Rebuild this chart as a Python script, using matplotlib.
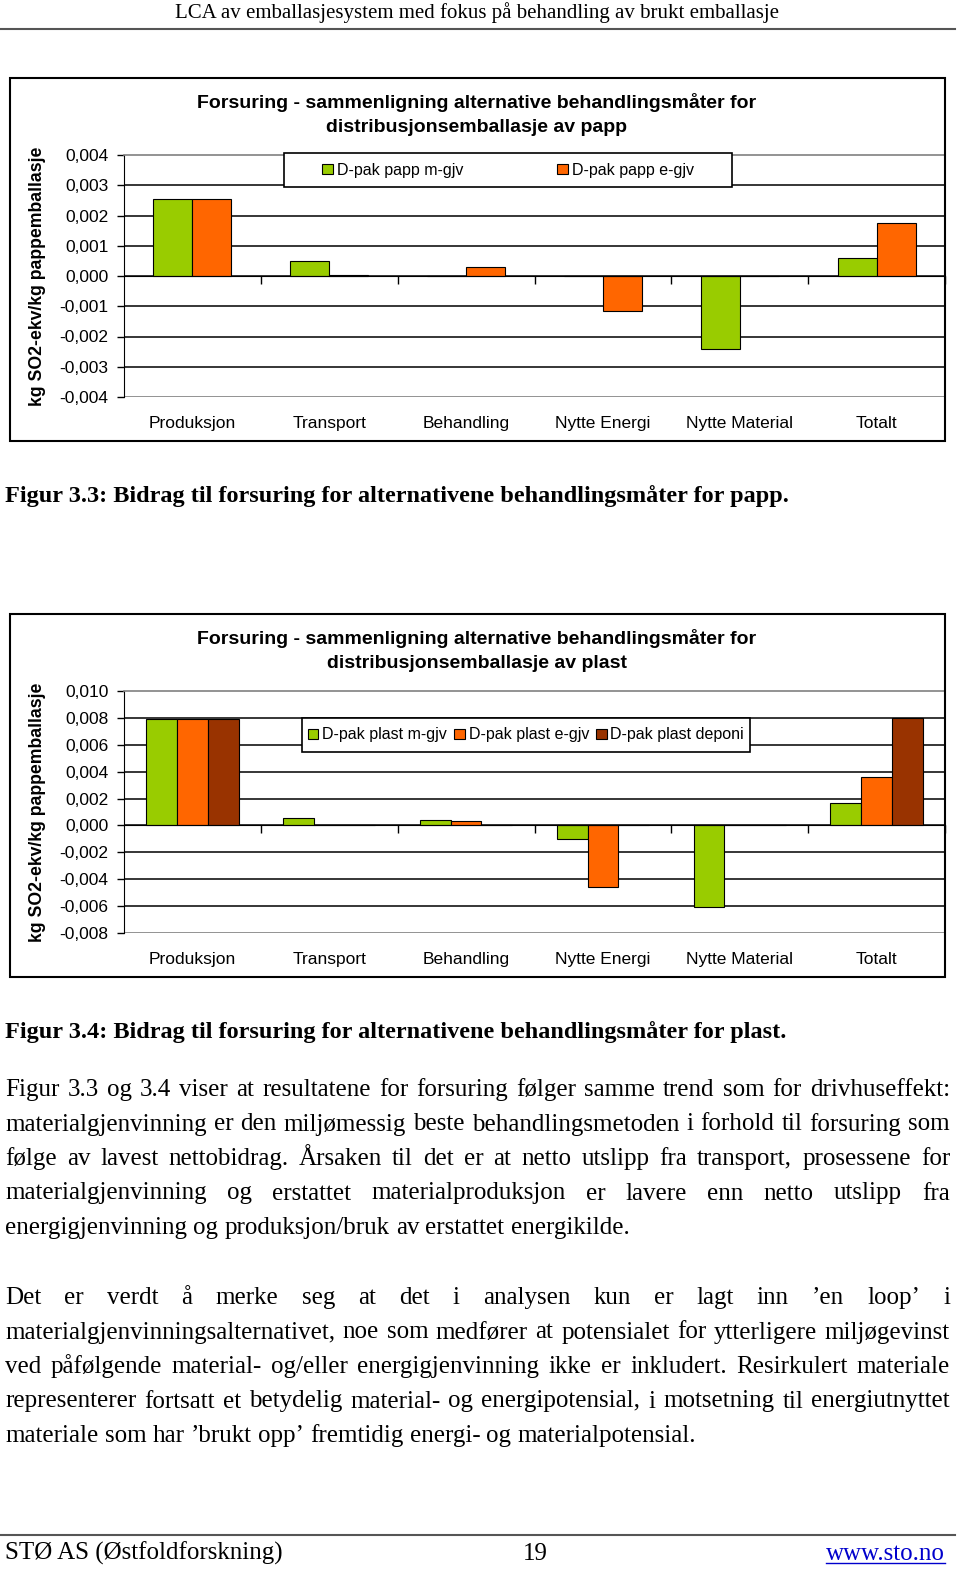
import matplotlib
matplotlib.use("Agg")
import matplotlib.pyplot as plt
from matplotlib.patches import Rectangle
from matplotlib.lines import Line2D

# data (lest av fra figuren)
kategorier = ['Produksjon', 'Transport', 'Behandling', 'Nytte Energi', 'Nytte Material', 'Totalt']

papp_m_gjv = [0.00255, 0.00050, 0.0, 0.0, -0.00240, 0.00060]
papp_e_gjv = [0.00255, 0.00002, 0.00030, -0.00116, 0.0, 0.00175]
papp_navn = ['D-pak papp m-gjv', 'D-pak papp e-gjv']
papp_ticks = [0.004, 0.003, 0.002, 0.001, 0.0, -0.001, -0.002, -0.003, -0.004]

plast_m_gjv = [0.00795, 0.00052, 0.00037, -0.00100, -0.00610, 0.00170]
plast_e_gjv = [0.00795, 0.00005, 0.00030, -0.00460, 0.0, 0.00360]
plast_deponi = [0.00795, 0.00005, 0.0, 0.0, 0.0, 0.00800]
plast_navn = ['D-pak plast m-gjv', 'D-pak plast e-gjv', 'D-pak plast deponi']
plast_ticks = [0.010, 0.008, 0.006, 0.004, 0.002, 0.0, -0.002, -0.004, -0.006, -0.008]

farger = ['#99CC00', '#FF6600', '#993300']

W, H = 960, 1571
fig = plt.figure(figsize=(W / 100, H / 100), dpi=100)
renderer = fig.canvas.get_renderer()

def fx(x):
    return x / W

def fy(y):
    return 1 - y / H

SANS = 'Liberation Sans'
SERIF = 'Liberation Serif'

def komma(v):
    return f'{v:.3f}'.replace('.', ',')

def lag_diagram(top, serier, navn, ticks, bredde, tittel, leg_box, colsp):
    # ramme rundt diagrammet
    fig.add_artist(Rectangle((fx(10), fy(top + 363)), (945 - 10) / W, 363 / H,
                             transform=fig.transFigure, fill=False, ec='black', lw=1.5))
    fig.text(fx(477), fy(top + 24), tittel[0], ha='center', va='center',
             fontsize=14, fontweight='bold', family=SANS)
    fig.text(fx(477), fy(top + 50), tittel[1], ha='center', va='center',
             fontsize=14, fontweight='bold', family=SANS)

    p_top, p_bot = top + 77, top + 319
    ax = fig.add_axes([fx(124), fy(p_bot), (945 - 124) / W, (p_bot - p_top) / H])
    n = len(serier)
    x = list(range(len(kategorier)))
    bars = []
    for i, s in enumerate(serier):
        off = (i - (n - 1) / 2) * bredde
        b = ax.bar([k + off for k in x], s, width=bredde, color=farger[i],
                   edgecolor='black', linewidth=0.8, zorder=3)
        bars.append(b)
    ax.set_xlim(-0.5, len(kategorier) - 0.5)
    ax.set_ylim(min(ticks), max(ticks))
    ax.set_yticks(ticks)
    ax.set_yticklabels([komma(t) for t in ticks], fontsize=12.5, family=SANS)
    ax.tick_params(axis='y', length=5, width=1, pad=6)
    for t in ticks[1:-1]:
        ax.axhline(t, color='black', lw=1.1, zorder=1)
    # kategoriakse ved null
    ax.spines['bottom'].set_position(('data', 0))
    ax.spines['bottom'].set_zorder(4)
    ax.set_xticks([k + 0.5 for k in x])
    ax.set_xticklabels([])
    ax.tick_params(axis='x', direction='out', length=6, width=1)
    ax.axhline(min(ticks), color='#808080', lw=1.2)
    for sp in ['top', 'right']:
        ax.spines[sp].set_color('#808080')
        ax.spines[sp].set_linewidth(1.2)
    ax.spines['left'].set_color('black')
    for k in x:
        ax.text(k, -0.11, kategorier[k], transform=ax.get_xaxis_transform(),
                ha='center', va='center', fontsize=12.5, family=SANS)
    fig.text(fx(38), fy((p_top + p_bot) / 2), 'kg SO2-ekv/kg pappemballasje',
             rotation=90, ha='center', va='center', fontsize=12.7,
             fontweight='bold', family=SANS)
    # legendeboks
    x0, y0, x1, y1 = leg_box
    ax.add_artist(Rectangle((fx(x0), fy(y1)), (x1 - x0) / W, (y1 - y0) / H,
                            transform=fig.transFigure, fc='white', ec='black', lw=1.2,
                            zorder=5, clip_on=False))
    leg = ax.legend([b[0] for b in bars], navn, loc='center', ncol=n,
                    bbox_to_anchor=(fx((x0 + x1) / 2), fy((y0 + y1) / 2)),
                    bbox_transform=fig.transFigure, frameon=False,
                    handlelength=0.65, handleheight=0.65, handletextpad=0.25,
                    borderpad=0, columnspacing=colsp,
                    prop={'family': SANS, 'size': 11.5})
    leg.set_zorder(6)
    return ax

lag_diagram(78, [papp_m_gjv, papp_e_gjv], papp_navn, papp_ticks, 0.285,
            ['Forsuring - sammenligning alternative behandlingsmåter for',
             'distribusjonsemballasje av papp'], (284, 153, 732, 187), 5.9)

lag_diagram(614, [plast_m_gjv, plast_e_gjv, plast_deponi], plast_navn, plast_ticks, 0.225,
            ['Forsuring - sammenligning alternative behandlingsmåter for',
             'distribusjonsemballasje av plast'], (302, 718, 750, 752), 0.45)

# topptekst og bunntekst
fig.text(fx(477), fy(18), 'LCA av emballasjesystem med fokus på behandling av brukt emballasje',
         ha='center', va='baseline', fontsize=15, family=SERIF)
fig.add_artist(Line2D([0, fx(955)], [fy(29), fy(29)], transform=fig.transFigure,
                      color='#555555', lw=1.5))
fig.add_artist(Line2D([0, fx(955)], [fy(1535), fy(1535)], transform=fig.transFigure,
                      color='#555555', lw=1.5))
fig.text(fx(5), fy(1560), 'STØ AS (Østfoldforskning)', ha='left', va='baseline',
         fontsize=18, family=SERIF)
fig.text(fx(535), fy(1560), '19', ha='center', va='baseline', fontsize=18, family=SERIF)
lenke = fig.text(fx(945), fy(1560), 'www.sto.no', ha='right', va='baseline',
                 fontsize=18, family=SERIF, color='#0000CC')
bb = lenke.get_window_extent(renderer)
fig.add_artist(Line2D([bb.x0 / W, bb.x1 / W], [fy(1563), fy(1563)],
                      transform=fig.transFigure, color='#0000CC', lw=1))

# figurtekster
fig.text(fx(5), fy(502), 'Figur 3.3: Bidrag til forsuring for alternativene behandlingsmåter for papp.',
         ha='left', va='baseline', fontsize=17.5, fontweight='bold', family=SERIF)
fig.text(fx(5), fy(1038), 'Figur 3.4: Bidrag til forsuring for alternativene behandlingsmåter for plast.',
         ha='left', va='baseline', fontsize=17.5, fontweight='bold', family=SERIF)

avsnitt1 = [
    'Figur 3.3 og 3.4 viser at resultatene for forsuring følger samme trend som for drivhuseffekt:',
    'materialgjenvinning er den miljømessig beste behandlingsmetoden i forhold til forsuring som',
    'følge av lavest nettobidrag. Årsaken til det er at netto utslipp fra transport, prosessene for',
    'materialgjenvinning og erstattet materialproduksjon er lavere enn netto utslipp fra',
    'energigjenvinning og produksjon/bruk av erstattet energikilde.',
]
avsnitt2 = [
    'Det er verdt å merke seg at det i analysen kun er lagt inn ’en loop’ i',
    'materialgjenvinningsalternativet, noe som medfører at potensialet for ytterligere miljøgevinst',
    'ved påfølgende material- og/eller energigjenvinning ikke er inkludert. Resirkulert materiale',
    'representerer fortsatt et betydelig material- og energipotensial, i motsetning til energiutnyttet',
    'materiale som har ’brukt opp’ fremtidig energi- og materialpotensial.',
]

BODY = 18

def skriv_linje(linje, y, just):
    ord_ = linje.split(' ')
    tekster = [fig.text(0, fy(y), o, ha='left', va='baseline', fontsize=BODY, family=SERIF)
               for o in ord_]
    bredder = [t.get_window_extent(renderer).width for t in tekster]
    if just and len(ord_) > 1:
        gap = (950 - 5 - sum(bredder)) / (len(ord_) - 1)
    else:
        gap = BODY * 100 / 72 * 0.25
    x = 5
    for t, b in zip(tekster, bredder):
        t.set_x(fx(x))
        x += b + gap

for i, linje in enumerate(avsnitt1):
    skriv_linje(linje, 1096 + i * 34.5, i < len(avsnitt1) - 1)
for i, linje in enumerate(avsnitt2):
    skriv_linje(linje, 1304 + i * 34.5, i < len(avsnitt2) - 1)

fig.savefig('out.png', dpi=100)
